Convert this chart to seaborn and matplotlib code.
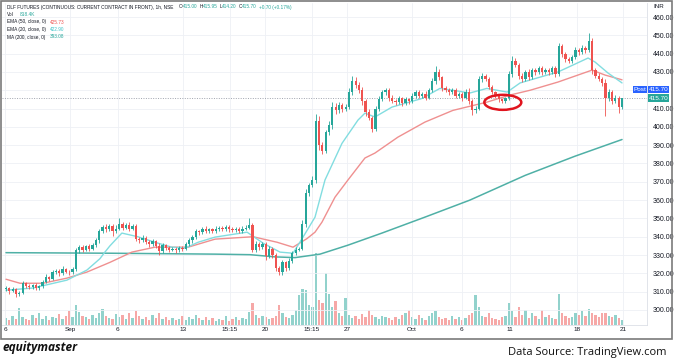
import numpy as np
import pandas as pd
import matplotlib
matplotlib.use("Agg")
import matplotlib.pyplot as plt
import seaborn as sns
from matplotlib.patches import Ellipse, Rectangle
from matplotlib import font_manager

# ---------------- data ----------------
first_open = 311.5
closes = [
    312, 310.5, 311.5, 308.5, 309.5, 314.5, 313, 312.5, 313.5, 312,
    313, 315.5, 318, 317, 320.5, 321.5, 320, 322.5, 321, 320.5,
    322.5, 332.5, 334.5, 333, 335, 333.5, 335.5, 338, 343, 345.5,
    344, 346, 343, 344.5, 347, 345, 346.5, 344.5, 346, 339,
    338, 339.5, 337, 336, 337.5, 335, 332, 335.5, 334, 333,
    333.5, 332.5, 334, 333.5, 336, 338, 340, 343, 342.5, 344.5,
    343, 344, 343, 344.5, 345, 344, 345.5, 344, 343.5, 344.5,
    343, 344.5, 345, 346.5, 333, 336, 334.5, 336, 329.5, 333.5,
    330, 323, 320.5, 326, 323, 327, 331, 333, 333.5, 347,
    364, 368, 371, 403, 390, 387, 397, 401, 411, 409,
    412, 410, 411, 419, 425, 423, 420, 414, 408, 405,
    399, 410, 415, 419, 420, 416, 414, 413.5, 415.5, 413,
    415, 414, 417, 419, 417, 418, 416, 420, 425, 430,
    427, 421, 420, 419, 420, 417, 418, 416, 419, 414,
    409, 410, 426, 428, 426, 422, 419, 417, 415, 414,
    415.5, 429, 436, 434, 428, 426, 430, 427, 431, 430,
    432, 430, 431, 430, 432, 429, 444, 440, 437, 436,
    438, 442, 441, 443, 442, 447, 431, 428, 426, 424,
    416, 419, 414, 416, 411, 415.7,
]
wick_up = [
    1.0, 0.8, 1.2, 0.5, 1.0, 1.5, 0.8, 1.0, 0.6, 1.2,
    0.8, 1.0, 1.5, 0.7, 1.2, 1.0, 0.8, 1.5, 0.6, 1.0,
    0.8, 1.5, 1.2, 1.0, 0.7, 1.3, 1.0, 1.2, 1.5, 1.0,
    1.5, 1.0, 1.2, 2.0, 3.0, 1.2, 1.0, 1.5, 1.0, 0.8,
    1.0, 1.5, 0.8, 1.2, 1.0, 0.7, 1.5, 1.0, 0.8, 1.2,
    0.8, 1.0, 1.2, 0.7, 1.0, 1.5, 1.0, 1.2, 0.8, 1.0,
    1.2, 0.8, 1.0, 1.2, 0.8, 1.0, 1.0, 0.7, 1.2, 1.0,
    0.8, 1.2, 1.5, 3.5, 1.0, 1.5, 1.0, 1.2, 1.0, 1.5,
    1.0, 1.2, 1.0, 1.5, 1.0, 1.2, 1.0, 1.5, 1.0, 2.0,
    2.0, 1.5, 2.0, 4.0, 3.0, 2.0, 1.5, 2.0, 2.5, 2.0,
    1.5, 1.0, 1.5, 2.0, 3.0, 2.0, 1.5, 2.0, 1.0, 1.5,
    1.0, 1.5, 2.0, 1.0, 1.5, 1.0, 1.5, 1.0, 1.5, 1.0,
    1.5, 1.0, 1.5, 1.0, 1.2, 1.0, 1.5, 1.0, 1.5, 3.0,
    1.5, 1.0, 1.2, 1.0, 1.5, 1.0, 1.2, 1.0, 1.5, 2.0,
    1.0, 1.5, 2.0, 1.5, 1.0, 1.5, 1.0, 0.8, 1.0, 0.8,
    1.0, 1.5, 2.5, 1.5, 1.0, 1.5, 1.0, 1.5, 1.2, 1.0,
    1.5, 1.0, 1.2, 1.0, 1.5, 1.0, 2.0, 1.5, 1.0, 1.2,
    1.5, 1.5, 1.0, 1.5, 1.0, 4.0, 1.5, 1.0, 1.5, 1.0,
    2.0, 1.5, 1.0, 1.5, 1.0, 0.3,
]
wick_dn = [
    1.0, 1.5, 0.8, 1.5, 1.0, 0.8, 1.2, 1.0, 0.8, 1.0,
    1.0, 0.8, 1.0, 1.2, 0.8, 1.0, 1.5, 0.8, 1.0, 1.2,
    1.0, 1.0, 1.5, 1.2, 1.0, 1.5, 0.8, 1.0, 1.2, 1.0,
    1.2, 1.0, 2.5, 1.0, 1.0, 1.5, 1.0, 1.2, 1.0, 1.5,
    1.5, 1.0, 1.2, 1.5, 1.0, 1.2, 2.0, 1.0, 1.2, 1.5,
    1.0, 1.2, 1.0, 1.5, 1.0, 1.0, 1.2, 1.0, 1.5, 1.0,
    1.0, 1.2, 0.8, 1.0, 1.2, 1.0, 0.8, 1.2, 1.0, 0.8,
    1.2, 1.0, 0.8, 1.0, 1.5, 1.2, 1.5, 1.0, 2.0, 1.2,
    1.5, 1.5, 1.5, 1.2, 1.5, 1.0, 1.2, 1.0, 1.0, 1.0,
    1.5, 1.5, 1.0, 1.5, 2.5, 2.0, 1.0, 1.5, 2.0, 2.0,
    1.5, 2.0, 1.5, 1.0, 1.5, 2.0, 1.5, 2.0, 2.0, 1.5,
    2.0, 1.0, 1.5, 1.0, 1.5, 2.0, 1.0, 1.5, 1.0, 1.5,
    1.0, 1.5, 1.0, 1.5, 1.0, 1.2, 1.5, 1.0, 1.0, 1.5,
    1.5, 1.5, 1.0, 1.5, 1.0, 1.5, 1.0, 2.0, 1.0, 1.5,
    2.5, 1.5, 1.0, 1.5, 1.0, 1.5, 1.0, 1.0, 1.2, 1.0,
    1.0, 1.0, 1.5, 1.5, 2.0, 1.5, 1.0, 1.5, 1.0, 1.5,
    1.0, 1.5, 1.0, 1.5, 1.0, 1.5, 1.0, 2.0, 1.5, 1.0,
    1.0, 1.0, 1.5, 1.0, 1.5, 1.0, 2.0, 1.5, 1.0, 1.5,
    10.0, 2.0, 1.5, 1.0, 3.5, 1.2,
]
volume_k = [
    1050, 750, 1350, 900, 2550, 1200, 900, 750, 1500, 1050,
    1800, 900, 1350, 750, 1200, 1050, 1650, 900, 1350, 2100,
    1200, 3000, 1950, 1350, 1200, 900, 1500, 1050, 1800, 2400,
    1350, 1050, 900, 1650, 1200, 1500, 900, 1800, 1050, 2100,
    1350, 900, 1200, 750, 1500, 1050, 1800, 900, 1200, 750,
    1050, 750, 900, 1350, 750, 1200, 900, 1500, 1050, 750,
    1200, 750, 1050, 600, 900, 750, 1350, 600, 900, 1200,
    750, 1050, 900, 1950, 3300, 1500, 1050, 1350, 1200, 900,
    1050, 1350, 3000, 1800, 1200, 1050, 1500, 2250, 4500, 5400,
    5250, 3000, 2700, 10800, 3750, 3300, 7800, 4650, 2700, 3600,
    1800, 1350, 4050, 1500, 1050, 1350, 900, 1650, 1200, 2250,
    1500, 1200, 900, 1350, 1200, 1050, 750, 1200, 900, 1500,
    1800, 2250, 1200, 900, 1500, 1050, 750, 1350, 1800, 2100,
    1200, 900, 1050, 750, 1350, 900, 1200, 750, 1050, 1500,
    1800, 4500, 2700, 1350, 1200, 1800, 1050, 900, 750, 1200,
    1350, 3300, 2100, 1200, 2700, 1500, 2250, 1050, 1800, 1350,
    900, 2250, 1200, 1500, 1050, 900, 4650, 1800, 1350, 1050,
    1200, 1800, 1500, 2100, 1350, 2400, 1800, 1500, 1200, 1800,
    1800, 1350, 1200, 1500, 1050, 818.4,
]

# indicator lines (candle index, value)
ma200_idx = [0, 31.2, 62.8, 73.3, 80.8, 86.8, 94.3, 102.7, 112.9, 125.8, 139.3, 155.9, 170.9, 185]
ma200_val = [331.3, 331, 330.5, 330.2, 329, 328.6, 330.5, 335.4, 342, 350.7, 360, 373.5, 384, 393.1]
ema50_idx = [0, 4.2, 11.1, 18.3, 24.3, 31.2, 37.8, 44.7, 54.7, 62.8, 74.2, 81.4, 86.2, 90.4, 92.8,
             94.9, 98.8, 102.7, 107.8, 110.8, 117.7, 125.8, 134.2, 144.4, 151.4, 157.4, 165.8, 176, 179.9, 185]
ema50_val = [316.8, 314.6, 314.6, 317.4, 320.7, 326, 331.6, 334.3, 334.3, 338.7, 340, 337, 334.3, 339, 342.5,
             348, 361.6, 371, 383, 385.7, 394.4, 402.6, 409, 413.5, 417.4, 420, 424.5, 431, 428.3, 425.7]
ema20_idx = [0, 8.1, 18.3, 24.3, 28.2, 29.7, 31.2, 34.8, 39.6, 44.7, 49.8, 53.8, 57.7, 62.8, 72.4, 77.2,
             82.3, 86.2, 89.2, 92.8, 95.8, 100.9, 105.7, 107.8, 110.8, 115.9, 124.9, 130.3, 134.2, 139.3,
             144.4, 150.5, 154.4, 157.4, 165.8, 174.8, 176.9, 180.8, 185]
ema20_val = [310.8, 312, 316.3, 321.8, 328, 331.6, 335, 342, 340, 337, 334.3, 333.8, 337, 339.8, 342.5, 336.5,
             331.6, 331, 339.8, 350.7, 371, 391, 403.7, 407.5, 405.4, 410.8, 415.5, 421, 420, 418.5,
             421, 419, 424, 425.6, 430, 437.6, 435.4, 429.4, 424]

tick_pos = [-0.3, 19.2, 33.6, 53.2, 67.3, 77.8, 91.9, 102.4, 121.9, 136.9, 151.4, 171.5, 185.3]
tick_labels = ["6", "Sep", "6", "13", "15:15", "20", "15:15", "27", "Oct", "6", "11", "18", "21"]
price_ticks = list(range(300, 461, 10))
last_price = 415.70
circle_center = (149.2, 413.4)

# ---------------- styling ----------------
sns.set_theme(style="white")
plt.rcParams["font.family"] = ["Liberation Sans", "DejaVu Sans"]

installed = {f.name for f in font_manager.fontManager.ttflist}
NARROW = ["Liberation Sans Narrow", "Liberation Sans"] if "Liberation Sans Narrow" in installed \
    else ["Liberation Sans"]
LEG_FS = 3.9 if NARROW[0] == "Liberation Sans Narrow" else 3.4

UP, DN = "#26a69a", "#ef5350"
DARK = "#131722"
W, H = 675, 360
fx = lambda px: px / W
fy = lambda py: 1 - py / H

n = len(closes)
opens = [first_open] + closes[:-1]
df = pd.DataFrame({"i": np.arange(n), "open": opens, "close": closes,
                   "wu": wick_up, "wd": wick_dn, "vol": volume_k})
df["top"] = df[["open", "close"]].max(axis=1)
df["bot"] = df[["open", "close"]].min(axis=1)
df["high"] = df["top"] + df["wu"]
df["low"] = df["bot"] - df["wd"]
df["up"] = df["close"] >= df["open"]
df["col"] = np.where(df["up"], UP, DN)

fig = plt.figure(figsize=(6.75, 3.6), dpi=100)
rect = [fx(2), fy(325), fx(647) - fx(2), fy(3) - fy(325)]
xlim = (-1.2, 192.5)

# volume axes (behind)
vax = fig.add_axes(rect)
vax.set_xlim(*xlim)
vax.set_ylim(0, 322 * 150)
vax.bar(df["i"], df["vol"], width=0.7, color=df["col"], alpha=0.5, linewidth=0)
vax.axis("off")

# price axes
ax = fig.add_axes(rect)
ax.patch.set_visible(False)
ax.set_xlim(*xlim)
ax.set_ylim(291.8, 467.65)

for v in price_ticks:
    ax.axhline(v, color="#eef0f5", lw=0.6, zorder=0)
for p in tick_pos:
    ax.axvline(p, color="#eef0f5", lw=0.6, zorder=0)

ax.axhline(last_price, color="#a0a4ae", lw=0.7, ls=(0, (1, 1.5)), zorder=1)

# indicator lines
sns.lineplot(x=ma200_idx, y=ma200_val, ax=ax, color="#4fb0a6", lw=1.1, zorder=2)
sns.lineplot(x=ema50_idx, y=ema50_val, ax=ax, color="#ef9090", lw=1.0, zorder=2)
sns.lineplot(x=ema20_idx, y=ema20_val, ax=ax, color="#82dde0", lw=1.0, zorder=2)

# candles
ax.vlines(df["i"], df["low"], df["high"], colors=df["col"], lw=0.6, zorder=3)
heights = np.maximum(df["top"] - df["bot"], 0.35)
ax.bar(df["i"], heights, bottom=df["bot"], width=0.68, color=df["col"], linewidth=0, zorder=4)

ax.add_patch(Ellipse(circle_center, width=11.1, height=8.2, fill=False,
                     ec="#e0141e", lw=1.8, zorder=6))

# price scale: the 420.00 label sits under the price tags in the reference
ax.yaxis.tick_right()
ax.set_yticks(price_ticks)
ax.set_yticklabels(["" if v == 420 else f"{v:.2f}" for v in price_ticks])
ax.tick_params(axis="y", length=0, pad=4, labelsize=5, labelcolor=DARK)
ax.set_xticks(tick_pos)
ax.set_xticklabels(tick_labels)
ax.tick_params(axis="x", length=0, pad=1.5, labelsize=4.6, labelcolor=DARK)
ax.set_xlabel("")
ax.set_ylabel("")
for s in ["top", "left"]:
    ax.spines[s].set_visible(False)
ax.spines["right"].set_color("#dcdfe6")
ax.spines["right"].set_linewidth(0.6)
ax.spines["bottom"].set_color("#dcdfe6")
ax.spines["bottom"].set_linewidth(0.6)

# price tags on the scale
def tag(x0, x1, y0, y1, text, fc):
    fig.add_artist(Rectangle((fx(x0), fy(y1)), fx(x1) - fx(x0), fy(y0) - fy(y1),
                             transform=fig.transFigure, fc=fc, ec="none", zorder=10))
    fig.text(fx((x0 + x1) / 2), fy((y0 + y1) / 2), text, ha="center", va="center",
             color="white", fontsize=4.6, zorder=11)

tag(633, 647, 86, 93, "Post", "#2962ff")
tag(648, 669, 86, 93, f"{last_price:.2f}", "#2962ff")
tag(648, 669, 94.5, 101.5, f"{last_price:.2f}", UP)
fig.text(fx(659), fy(7), "INR", ha="center", va="center", fontsize=4.5, color=DARK)

# legend rows
def rich_row(x_px, y_px, parts, fs=LEG_FS):
    t = fig.text(fx(x_px), fy(y_px), parts[0][0], color=parts[0][1], fontsize=fs,
                 va="center", ha="left", zorder=12, family=NARROW)
    prev = t
    for s, c, gap in parts[1:]:
        prev = ax.annotate(s, xy=(1, 0), xycoords=prev, xytext=(gap, 0),
                           textcoords="offset points", va="bottom", ha="left",
                           color=c, fontsize=fs, annotation_clip=False, zorder=12,
                           family=NARROW)

TEAL_T = "#26a69a"
rich_row(7, 7, [("DLF FUTURES (CONTINUOUS: CURRENT CONTRACT IN FRONT), 1h, NSE", DARK),
                ("O", DARK, 4), ("415.00", TEAL_T, 0), ("H", DARK, 1.5), ("415.95", TEAL_T, 0),
                ("L", DARK, 1.5), ("414.20", TEAL_T, 0), ("C", DARK, 1.5), ("415.70", TEAL_T, 0),
                ("+0.70 (+0.17%)", TEAL_T, 1.5)])
rich_row(7, 14.5, [("Vol", DARK), ("818.4K", TEAL_T, 4)])
rich_row(7, 22, [("EMA (50, close, 0)", DARK), ("425.73", DN, 3)])
rich_row(7, 29.5, [("EMA (20, close, 0)", DARK), ("422.90", "#3cc3c8", 3)])
rich_row(7, 37, [("MA (200, close, 0)", DARK), ("393.08", TEAL_T, 3)])

# outer frame
fig.add_artist(Rectangle((fx(1), fy(339)), fx(672) - fx(1), fy(1) - fy(339),
                         transform=fig.transFigure, fill=False, ec="#7a7a7a", lw=1.2, zorder=20))

# footer
fig.text(fx(2), fy(351.5), "equitymaster", fontsize=8.6, fontweight="bold", fontstyle="italic",
         family=["Open Sans", "DejaVu Sans"], color="#111111", va="baseline", ha="left")
fig.text(fx(666), fy(354.5), "Data Source: TradingView.com", fontsize=8,
         family=["Open Sans", "DejaVu Sans"], color="#111111", va="baseline", ha="right")

fig.savefig("out.png", dpi=100, facecolor="white")
